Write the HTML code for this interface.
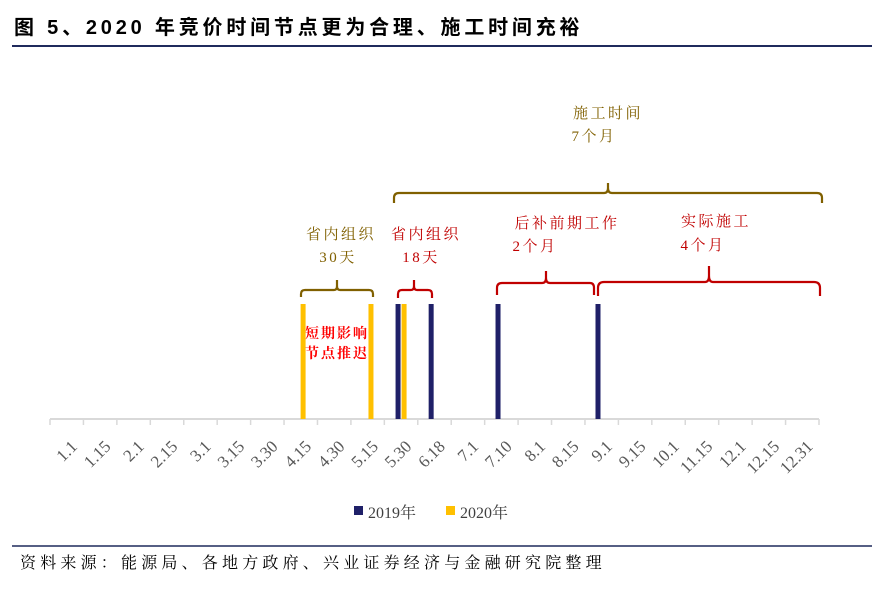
<!DOCTYPE html>
<html><head><meta charset="utf-8"><style>
body{margin:0;width:890px;height:585px;background:#fff;overflow:hidden;font-family:"Liberation Serif","Noto Serif CJK SC",serif;}
</style></head><body>
<svg width="890" height="585" xmlns="http://www.w3.org/2000/svg">
<text x="14" y="34" font-size="20" font-weight="bold" letter-spacing="3.8" font-family="Liberation Sans, Noto Sans CJK SC, sans-serif" fill="#000">图 5、2020 年竞价时间节点更为合理、施工时间充裕</text>
<line x1="12" y1="46" x2="872" y2="46" stroke="#1f2a5c" stroke-width="2"/>
<g id="axis"></g>
<g id="bars"></g>
<g fill="none" stroke-width="2.2">
<path d="M394,203 v-5 q0,-5 5,-5 h205 q4,0 4,-5 v-5 v5 q0,5 4,5 h205 q5,0 5,5 v5" stroke="#806000"/>
<path d="M301,297 v-3 q0,-4 4,-4 h29 q3,0 3,-4 v-6 v6 q0,4 3,4 h29 q4,0 4,4 v3" stroke="#806000"/>
<path d="M398,298 v-4 q0,-4 4,-4 h9 q3,0 3,-4 v-6 v6 q0,4 3,4 h11 q4,0 4,4 v4" stroke="#c00000"/>
<path d="M497,295 v-7 q0,-5 5,-5 h40 q4,0 4,-5 v-7 v7 q0,5 4,5 h40 q4,0 4,5 v7" stroke="#c00000"/>
<path d="M598,296 v-8 q0,-6 6,-6 h101 q4,0 4,-6 v-10 v10 q0,6 4,6 h101 q6,0 6,6 v8" stroke="#c00000"/>
</g>
<g font-size="15" text-anchor="middle" letter-spacing="2.5">
<text x="608" y="118" fill="#806000">施工时间</text>
<text x="594" y="141" fill="#806000">7个月</text>
<text x="341" y="239" fill="#806000">省内组织</text>
<text x="338" y="262" fill="#806000">30天</text>
<text x="426" y="239" fill="#c00000">省内组织</text>
<text x="421" y="262" fill="#c00000">18天</text>
<text x="567" y="228" fill="#c00000">后补前期工作</text>
<text x="535" y="251" fill="#c00000">2个月</text>
<text x="716" y="226" fill="#c00000">实际施工</text>
<text x="703" y="250" fill="#c00000">4个月</text>
<text x="337" y="338" font-size="14" letter-spacing="2" font-weight="bold" fill="#ff0000">短期影响</text>
<text x="337" y="358" font-size="14" letter-spacing="2" font-weight="bold" fill="#ff0000">节点推迟</text>
</g>
<g font-size="16" fill="#404040">
<rect x="354" y="506" width="9" height="9" fill="#1f2068"/>
<text x="368" y="518">2019年</text>
<rect x="446" y="506" width="9" height="9" fill="#ffc000"/>
<text x="460" y="518">2020年</text>
</g>
<line x1="12" y1="546" x2="872" y2="546" stroke="#1f2a5c" stroke-width="1.5"/>
<text x="20" y="568" font-size="16" letter-spacing="4.2" fill="#000">资料来源：能源局、各地方政府、兴业证券经济与金融研究院整理</text>
</svg>
<script>
const categories=["1.1","1.15","2.1","2.15","3.1","3.15","3.30","4.15","4.30","5.15","5.30","6.18","7.1","7.10","8.1","8.15","9.1","9.15","10.1","11.15","12.1","12.15","12.31"];
const barPos2019=[10.41,11.40,13.40,16.39];
const barPos2020=[7.57,9.60,10.59];
const barHeight=[1];
const NS="http://www.w3.org/2000/svg";
const x0=50,x1=819,yBase=419,yTop=304;
const slot=(x1-x0)/categories.length;
function xScale(p){return x0+p*slot;}
function yScale(v){return yBase-(yBase-yTop)*v;}
const axis=document.getElementById('axis');
let l=document.createElementNS(NS,'line');
l.setAttribute('x1',x0);l.setAttribute('x2',x1);l.setAttribute('y1',yBase);l.setAttribute('y2',yBase);
l.setAttribute('stroke','#d9d9d9');l.setAttribute('stroke-width','2');


axis.appendChild(l);
for(let i=0;i<=categories.length;i++){
  const t=document.createElementNS(NS,'line');
  const x=xScale(i);
  t.setAttribute('x1',x);t.setAttribute('x2',x);t.setAttribute('y1',yBase);t.setAttribute('y2',yBase+6);
  t.setAttribute('stroke','#d9d9d9');t.setAttribute('stroke-width','1.5');
  
  
  axis.appendChild(t);
}
categories.forEach((c,i)=>{
  const tx=document.createElementNS(NS,'text');
  const x=xScale(i+0.5)+3,y=yBase+20;
  tx.setAttribute('x',x);tx.setAttribute('y',y);
  tx.setAttribute('text-anchor','end');tx.setAttribute('font-size','17');tx.setAttribute('fill','#595959');
  tx.setAttribute('transform','rotate(-45 '+x+' '+y+')');
  tx.setAttribute('dominant-baseline','hanging');
  tx.textContent=c;
  
  
  axis.appendChild(tx);
});
const bars=document.getElementById('bars');
function drawBar(p,color,name){
  const r=document.createElementNS(NS,'rect');
  const x=xScale(p),y=yScale(barHeight[0]);
  r.setAttribute('x',x-2.5);r.setAttribute('y',y);r.setAttribute('width',5);r.setAttribute('height',yBase-y);
  r.setAttribute('fill',color);
  
  
  bars.appendChild(r);
}
barPos2020.forEach(p=>drawBar(p,'#ffc000','bar-2020'));
barPos2019.forEach(p=>drawBar(p,'#1f2068','bar-2019'));
</script>
</body></html>
